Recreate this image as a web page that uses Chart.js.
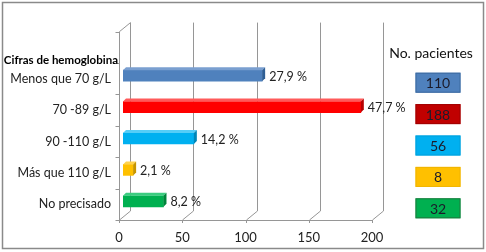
<!DOCTYPE html>
<html><head><meta charset="utf-8">
<script src="https://cdn.jsdelivr.net/npm/chart.js@4"></script>
<style>html,body{margin:0;padding:0;background:#fff}canvas{display:block}</style>
</head><body>
<canvas id="c" width="486" height="252"></canvas>
<script>
const categories = ["Menos que 70 g/L", "70 -89 g/L", "90 -110 g/L", "Más que 110 g/L", "No precisado"];
const pacientes = [110, 188, 56, 8, 32];
const porcentajes = ["27,9 %", "47,7 %", "14,2 %", "2,1 %", "8,2 %"];
const xTicks = [0, 50, 100, 150, 200];
const axisTitle = "Cifras de hemoglobina";
const legendTitle = "No. pacientes";
const barColors = ["#4F81BD", "#FF0000", "#00B0F0", "#FFC000", "#00B050"];
const sideColors = ["#2f5f95", "#b80000", "#0086b8", "#c79500", "#00843b"];
const topColors = ["#7a9fd0", "#ff5a5a", "#55cdf7", "#ffd24d", "#3ccc80"];
const boxColors = ["#4F81BD", "#C00000", "#00B0F0", "#FFC000", "#00B050"];
const boxBorders = ["#3d6aa0", "#a00000", "#00a0dc", "#f0b400", "#1f7a3e"];

const FONT = "Lato, 'Liberation Sans', sans-serif";
const DX = 11, DY = 9, D = 3, SHX = 4, SHY = -3;

const deco = {
  id: 'deco',
  beforeDraw(chart) {
    const ctx = chart.ctx;
    ctx.save();
    ctx.fillStyle = '#fff';
    ctx.fillRect(0, 0, chart.width, chart.height);
    ctx.restore();
  },
  beforeDatasetsDraw(chart) {
    const ctx = chart.ctx, xs = chart.scales.x, ys = chart.scales.y;
    const bottom = chart.chartArea.bottom;
    const slot = ys.getPixelForValue(1) - ys.getPixelForValue(0);
    const axisTop = chart.chartArea.top - slot;
    const backTop = axisTop - DY;
    ctx.save();
    ctx.strokeStyle = '#969696';
    ctx.lineWidth = 1;
    xTicks.forEach(v => {
      const fx = Math.round(xs.getPixelForValue(v)) + 0.5;
      ctx.beginPath();
      ctx.moveTo(fx + DX, backTop);
      ctx.lineTo(fx + DX, bottom - DY);
      ctx.lineTo(fx, bottom);
      ctx.lineTo(fx, bottom + 3);
      ctx.stroke();
    });
    const x0 = Math.round(xs.getPixelForValue(xTicks[0])) + 0.5;
    const x1 = Math.round(xs.getPixelForValue(xTicks[xTicks.length - 1])) + 0.5;
    ctx.beginPath();
    ctx.moveTo(x0, bottom + 0.5); ctx.lineTo(x1, bottom + 0.5);
    ctx.stroke();
    ctx.beginPath();
    ctx.moveTo(x0, bottom); ctx.lineTo(x0, axisTop);
    ctx.lineTo(x0 + DX, backTop);
    ctx.stroke();
    for (let i = 0; i <= categories.length + 1; i++) {
      const y = Math.round(axisTop + i * slot) + 0.5;
      ctx.beginPath();
      ctx.moveTo(x0 - 4, y); ctx.lineTo(x0, y);
      ctx.stroke();
    }
    ctx.restore();
    ctx.save();
    ctx.translate(SHX, SHY);
  },
  afterDatasetsDraw(chart) {
    const ctx = chart.ctx;
    const meta = chart.getDatasetMeta(0);
    meta.data.forEach((bar, i) => {
      const p = bar.getProps(['x', 'y', 'base', 'height'], true);
      const top = p.y - p.height / 2, bot = p.y + p.height / 2;
      ctx.fillStyle = topColors[i];
      ctx.beginPath();
      ctx.moveTo(p.base, top); ctx.lineTo(p.x, top);
      ctx.lineTo(p.x + D, top - D); ctx.lineTo(p.base + D, top - D);
      ctx.closePath(); ctx.fill();
      ctx.fillStyle = sideColors[i];
      ctx.beginPath();
      ctx.moveTo(p.x, top); ctx.lineTo(p.x + D, top - D);
      ctx.lineTo(p.x + D, bot - D); ctx.lineTo(p.x, bot);
      ctx.closePath(); ctx.fill();
    });
    ctx.restore();
    const xs = chart.scales.x, ys = chart.scales.y;
    ctx.save();
    ctx.font = "12.5px " + FONT;
    ctx.fillStyle = '#222';
    ctx.textBaseline = 'middle';
    ctx.textAlign = 'left';
    pacientes.forEach((v, i) => {
      ctx.fillText(porcentajes[i], xs.getPixelForValue(v) + 11, ys.getPixelForValue(i) - 2);
    });
    ctx.restore();
  },
  afterDraw(chart) {
    const ctx = chart.ctx, ys = chart.scales.y, xs = chart.scales.x;
    ctx.save();
    ctx.font = "bold 11.5px " + FONT;
    ctx.fillStyle = '#000';
    ctx.textAlign = 'right';
    ctx.textBaseline = 'middle';
    ctx.fillText(axisTitle, xs.left - 1, ys.getPixelForValue(0) - 18);
    const cx = 438;
    ctx.font = "14px " + FONT;
    ctx.textAlign = 'center';
    ctx.fillStyle = '#111';
    ctx.fillText(legendTitle, cx - 7, 53);
    pacientes.forEach((v, i) => {
      const cy = ys.getPixelForValue(i) + 4;
      const w = 45, h = 20;
      ctx.fillStyle = boxColors[i];
      ctx.fillRect(cx - w / 2, cy - h / 2, w, h);
      ctx.strokeStyle = boxBorders[i];
      ctx.lineWidth = 1;
      ctx.strokeRect(cx - w / 2 + 0.5, cy - h / 2 + 0.5, w - 1, h - 1);
      ctx.fillStyle = '#1b1b2a';
      ctx.font = "14px " + FONT;
      ctx.fillText(String(v), cx, cy + 1);
    });
    ctx.strokeStyle = '#8a8a8a';
    ctx.lineWidth = 1.5;
    ctx.strokeRect(2.5, 2.5, 481, 246);
    ctx.restore();
  }
};

new Chart(document.getElementById('c'), {
  type: 'bar',
  data: {
    labels: categories,
    datasets: [{
      data: pacientes,
      backgroundColor: barColors,
      borderWidth: 0,
      barThickness: 11
    }]
  },
  options: {
    indexAxis: 'y',
    responsive: false,
    animation: false,
    layout: { padding: { top: 63, right: 114, bottom: 0, left: 0 } },
    plugins: { legend: { display: false }, tooltip: { enabled: false } },
    scales: {
      x: {
        min: 0, max: 200,
        afterBuildTicks(s) { s.ticks = xTicks.map(v => ({ value: v })); },
        afterFit(s) { s.height = 32; },
        grid: { display: false, drawTicks: false },
        border: { display: false },
        ticks: { padding: 10, color: '#222', font: { size: 13, family: FONT } }
      },
      y: {
        afterFit(s) { s.width = 119; },
        grid: { display: false, drawTicks: false },
        border: { display: false },
        ticks: { padding: 8, color: '#222', font: { size: 12.5, family: FONT } }
      }
    }
  },
  plugins: [deco]
});
</script>
</body></html>
